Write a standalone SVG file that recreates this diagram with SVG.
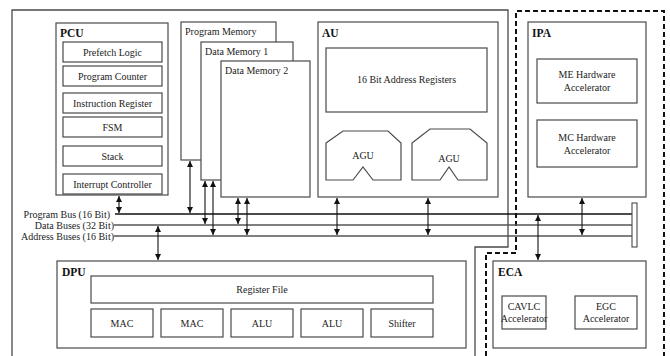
<svg xmlns="http://www.w3.org/2000/svg" width="670" height="356" viewBox="0 0 670 356">
<style>
.box{fill:#fff;stroke:#4a4a4a;stroke-width:1.2}
.t{font-family:"Liberation Serif","Times New Roman",serif;font-size:10px;fill:#222}
.c{text-anchor:middle}
.e{text-anchor:end}
.b{font-weight:bold;font-size:11.5px;fill:#111}
.bus{stroke:#555;stroke-width:1.3;fill:none}
.conn{stroke:#111;stroke-width:1.1;fill:none;marker-start:url(#ah);marker-end:url(#ah)}
</style>
<defs>
<marker id="ah" viewBox="0 0 8 8" refX="8" refY="4" markerWidth="6" markerHeight="6" markerUnits="userSpaceOnUse" orient="auto-start-reverse">
<path d="M0,0 L8,4 L0,8 z" fill="#111"/>
</marker>
</defs>
<rect width="670" height="356" fill="#fff"/>
<g id="frames">
<path d="M12,356 V10 H508 V247 H475 V356" fill="none" stroke="#4a4a4a" stroke-width="1.3"/>
<path d="M486,356 V253 H516 V11 H664 V356" fill="none" stroke="#111" stroke-width="2" stroke-dasharray="5 3"/>
</g>
<g id="pcu">
<rect class="box" x="56" y="23" width="112" height="172"/>
<text class="t b" x="60" y="37">PCU</text>
<rect class="box" x="63" y="42" width="99" height="20"/>
<text class="t c" x="112.5" y="55.5">Prefetch Logic</text>
<rect class="box" x="63" y="66" width="99" height="20"/>
<text class="t c" x="112.5" y="79.5">Program Counter</text>
<rect class="box" x="63" y="93" width="99" height="20"/>
<text class="t c" x="112.5" y="106.5">Instruction Register</text>
<rect class="box" x="63" y="117" width="99" height="20"/>
<text class="t c" x="112.5" y="130.5">FSM</text>
<rect class="box" x="63" y="146" width="99" height="20"/>
<text class="t c" x="112.5" y="159.5">Stack</text>
<rect class="box" x="63" y="174" width="99" height="20"/>
<text class="t c" x="112.5" y="187.5">Interrupt Controller</text>
</g>
<g id="program-memory">
<rect class="box" x="181" y="22" width="95" height="138"/>
<text class="t" x="185" y="35">Program Memory</text>
</g>
<g id="data-memory-1">
<rect class="box" x="201" y="42" width="92" height="138"/>
<text class="t" x="205" y="55">Data Memory 1</text>
</g>
<g id="data-memory-2">
<rect class="box" x="221" y="61" width="89" height="136"/>
<text class="t" x="225" y="74">Data Memory 2</text>
</g>
<g id="au">
<rect class="box" x="318" y="22" width="180" height="175"/>
<text class="t b" x="322" y="37">AU</text>
<rect class="box" x="326" y="48" width="161" height="64"/>
<text class="t c" x="406.5" y="83">16 Bit Address Registers</text>
<path class="box" d="M326,143 L343,131 H388 L401,143 V180 H373 L363,167 L353,180 H326 Z"/>
<text class="t c" x="363" y="159">AGU</text>
<path class="box" d="M412,143 L430,129 H470 L487,143 V180 H458 L449,167 L440,180 H412 Z"/>
<text class="t c" x="449" y="162">AGU</text>
</g>
<g id="ipa">
<rect class="box" x="528" y="22" width="118" height="175"/>
<text class="t b" x="532" y="37">IPA</text>
<rect class="box" x="537" y="59" width="100" height="44"/>
<text class="t c" x="587" y="78">ME Hardware</text>
<text class="t c" x="587" y="91">Accelerator</text>
<rect class="box" x="537" y="120" width="100" height="47"/>
<text class="t c" x="587" y="141">MC Hardware</text>
<text class="t c" x="587" y="154">Accelerator</text>
</g>
<g id="dpu">
<rect class="box" x="57" y="261" width="409" height="87"/>
<text class="t b" x="62" y="276">DPU</text>
<rect class="box" x="91" y="276" width="342" height="27"/>
<text class="t c" x="262" y="293">Register File</text>
<rect class="box" x="91" y="309" width="62" height="28"/>
<text class="t c" x="122" y="326.5">MAC</text>
<rect class="box" x="161" y="309" width="62" height="28"/>
<text class="t c" x="192" y="326.5">MAC</text>
<rect class="box" x="231" y="309" width="62" height="28"/>
<text class="t c" x="262" y="326.5">ALU</text>
<rect class="box" x="301" y="309" width="62" height="28"/>
<text class="t c" x="332" y="326.5">ALU</text>
<rect class="box" x="371" y="309" width="62" height="28"/>
<text class="t c" x="402" y="326.5">Shifter</text>
</g>
<g id="eca">
<rect class="box" x="493" y="261" width="153" height="87"/>
<text class="t b" x="498" y="276">ECA</text>
<rect class="box" x="502" y="296" width="44" height="33"/>
<text class="t c" x="524" y="310">CAVLC</text>
<text class="t c" x="524" y="322">Accelerator</text>
<rect class="box" x="575" y="296" width="62" height="33"/>
<text class="t c" x="606" y="310">EGC</text>
<text class="t c" x="606" y="322">Accelerator</text>
</g>
<g id="buses">
<text class="t e" x="110" y="217.5">Program Bus (16 Bit)</text>
<text class="t e" x="114" y="228.5">Data Buses (32 Bit)</text>
<text class="t e" x="114" y="239.5">Address Buses (16 Bit)</text>
<line x1="115" y1="214" x2="632" y2="214" stroke="#111" stroke-width="1.3"/>
<line class="bus" x1="114" y1="225" x2="632" y2="225"/>
<line class="bus" x1="114" y1="236" x2="632" y2="236"/>
<rect x="632" y="203" width="5" height="44" fill="#fff" stroke="#4a4a4a" stroke-width="1.1"/>
</g>
<g id="connectors">
<line class="conn" x1="119" y1="196" x2="119" y2="213"/>
<line class="conn" x1="190" y1="161" x2="190" y2="213"/>
<line class="conn" x1="205" y1="181" x2="205" y2="224"/>
<line class="conn" x1="213" y1="181" x2="213" y2="235"/>
<line class="conn" x1="238" y1="198" x2="238" y2="224"/>
<line class="conn" x1="247" y1="198" x2="247" y2="235"/>
<line class="conn" x1="158" y1="226" x2="158" y2="260"/>
<line class="conn" x1="337" y1="198" x2="337" y2="235"/>
<line class="conn" x1="428" y1="198" x2="428" y2="235"/>
<line class="conn" x1="582" y1="198" x2="582" y2="235"/>
<line class="conn" x1="538" y1="215" x2="538" y2="260"/>
</g>
</svg>
